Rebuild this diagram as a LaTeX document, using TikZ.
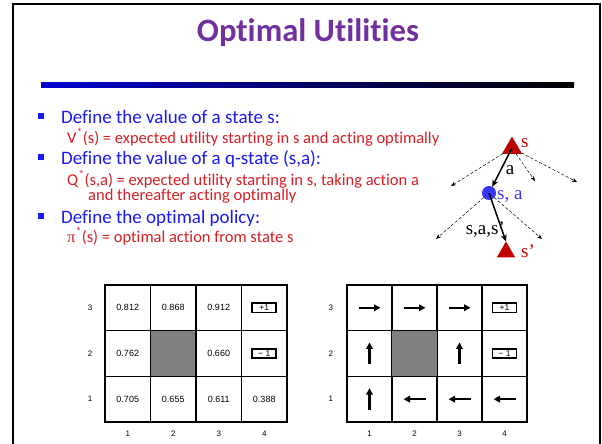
\documentclass[tikz,border=0pt]{standalone}
\usepackage{fontspec}
\setmainfont{Carlito}[Ligatures=NoCommon]
\newfontfamily\treefont{Liberation Serif}
\newfontfamily\gridfont{Liberation Sans}
\usepackage{tikz}
\usetikzlibrary{shapes.geometric, arrows.meta, positioning, calc}

\definecolor{titlepurple}{RGB}{112,48,160}
\definecolor{headblue}{RGB}{25,25,245}
\definecolor{defred}{RGB}{215,30,35}
\definecolor{maxred}{RGB}{192,0,0}
\definecolor{chanceblue}{RGB}{55,55,250}
\definecolor{barblue}{RGB}{0,0,205}
\definecolor{wallgray}{RGB}{128,128,128}

\tikzset{
  sq/.style={fill=headblue, minimum size=5.2pt, inner sep=0pt, outer sep=0pt},
  headtxt/.style={text=headblue, font=\fontsize{19}{22}\selectfont, anchor=base west, inner sep=0pt},
  deftxt/.style={text=defred, font=\fontsize{16.5}{19}\selectfont, anchor=base west, inner sep=0pt},
  maxtri/.style={regular polygon, regular polygon sides=3, fill=maxred, minimum size=23pt, inner sep=0pt, outer sep=0pt},
  chance/.style={circle, fill=chanceblue, minimum size=14pt, inner sep=0pt, outer sep=0pt},
  treelbl/.style={font=\treefont\fontsize{19}{20}\selectfont, inner sep=0pt},
  bigarr/.style={line width=1.5pt, -{Stealth[length=7pt, width=6pt]}},
  dotarr/.style={densely dashed, line width=0.5pt, -{Stealth[length=5pt, width=4pt]}},
  cell/.style={draw, line width=1.2pt, minimum width=45.5pt, minimum height=45.7pt, inner sep=0pt, outer sep=0pt, font=\gridfont\fontsize{9}{10}\selectfont},
  axlbl/.style={font=\gridfont\fontsize{8}{9}\selectfont, inner sep=0pt},
  reward/.style={draw, fill=white, line width=1.6pt, minimum width=24pt, minimum height=9.5pt, inner sep=0pt, font=\gridfont\fontsize{8.5}{8.5}\selectfont},
  polarr/.style={line width=2.2pt, -{Triangle[length=6.5pt, width=6.5pt]}}
}

\begin{document}
\begin{tikzpicture}[x=1pt, y=-1pt]
    \useasboundingbox (0,0) rectangle (602,444);

    % slide frame and title
    \draw[line width=2pt] (13,450) -- (13,4) -- (600,4) -- (600,450);
    \node[font=\bfseries\fontsize{32.6}{36}\selectfont, text=titlepurple, anchor=base, inner sep=0pt] (title) at (308,42) {Optimal Utilities};
    \shade[left color=barblue, right color=black] (41,82) rectangle (574,87);

    % definitions
    \node[sq] (b1) at (41,116) {};
    \node[headtxt] (def1) at (61,123) {Define the value of a state s:};
    \node[deftxt] (val1) at (67,143) {V\textsuperscript{*}(s) = expected utility starting in s and acting optimally};
    \node[sq] (b2) at (41,157) {};
    \node[headtxt] (def2) at (61,164) {Define the value of a q-state (s,a):};
    \node[deftxt] (qval1) at (67,185) {Q\textsuperscript{*}(s,a) = expected utility starting in s, taking action a};
    \node[deftxt] (qval2) at (88,200) {and thereafter acting optimally};
    \node[sq] (b3) at (41,216) {};
    \node[headtxt] (def3) at (61,223) {Define the optimal policy:};
    \node[deftxt] (pol1) at (67,242) {{\treefont π}\textsuperscript{*}(s) = optimal action from state s};

    % small expectimax tree
    \node[maxtri] (s) at (512,148) {};
    \node[treelbl, text=maxred, anchor=west] (slbl) at (521,143) {s};
    \node[chance] (sa) at (489,193) {};
    \node[treelbl, text=chanceblue, anchor=west] (salbl) at (497,196) {s, a};
    \node[maxtri, minimum size=21pt] (sp) at (506,252) {};
    \node[treelbl, text=maxred, anchor=west] (splbl) at (521,251) {s’};
    \coordinate (sL) at (451,186);
    \coordinate (sR1) at (535,181);
    \coordinate (sR2) at (577,182);
    \coordinate (saL) at (436,239);
    \coordinate (saR) at (542,239);
    \draw[dotarr] (s) -- (sL);
    \draw[dotarr] (s) -- (sR1);
    \draw[dotarr] (s) -- (sR2);
    \draw[dotarr] (sa) -- (saL);
    \draw[dotarr] (sa) -- (saR);
    \draw[bigarr] (s.center) -- (sa);
    \draw[bigarr] (sa.center) -- (sp.corner 1);
    \node[treelbl] (albl) at (510,170) {a};
    \node[treelbl, anchor=east] (saslbl) at (505,230) {s,a,s’};

    % utilities grid
    \foreach \cc/\rr/\v in {1/3/0.812, 2/3/0.868, 3/3/0.912, 4/3/{}, 1/2/0.762, 2/2/{}, 3/2/0.660, 4/2/{}, 1/1/0.705, 2/1/0.655, 3/1/0.611, 4/1/0.388}
        \node[cell] (L-\cc-\rr) at ({105+45.5*(\cc-0.5)}, {422-45.7*(\rr-0.5)}) {\v};
    \filldraw[fill=wallgray, line width=1.2pt] (L-2-2.south west) rectangle (L-2-2.north east);
    \draw[line width=2pt] (L-1-1.south west) rectangle (L-4-3.north east);
    \node[reward] (Lplus) at (L-4-3) {+1};
    \node[reward] (Lminus) at (L-4-2) {− 1};
    \foreach \cc in {1,...,4}
        \node[axlbl] (Lx-\cc) at ($(L-\cc-1.south)+(0,12)$) {\cc};
    \foreach \rr in {1,2,3}
        \node[axlbl] (Ly-\rr) at ($(L-1-\rr.west)+(-15,0)$) {\rr};

    % policy grid
    \foreach \cc in {1,...,4}
        \foreach \rr in {1,2,3}
            \node[cell] (R-\cc-\rr) at ({347+45*(\cc-0.5)}, {422-45.7*(\rr-0.5)}) {};
    \filldraw[fill=wallgray, line width=1.2pt] (R-2-2.south west) rectangle (R-2-2.north east);
    \draw[line width=2pt] (R-1-1.south west) rectangle (R-4-3.north east);
    \node[reward] (Rplus) at (R-4-3) {+1};
    \node[reward] (Rminus) at (R-4-2) {− 1};
    \foreach \cc/\rr in {1/3, 2/3, 3/3}
        \draw[polarr] ($(R-\cc-\rr)+(-11,0)$) -- ($(R-\cc-\rr)+(11,0)$);
    \foreach \cc/\rr in {1/2, 3/2, 1/1}
        \draw[polarr] ($(R-\cc-\rr)+(0,11)$) -- ($(R-\cc-\rr)+(0,-11)$);
    \foreach \cc/\rr in {2/1, 3/1, 4/1}
        \draw[polarr] ($(R-\cc-\rr)+(11,0)$) -- ($(R-\cc-\rr)+(-11,0)$);
    \foreach \cc in {1,...,4}
        \node[axlbl] (Rx-\cc) at ($(R-\cc-1.south)+(0,12)$) {\cc};
    \foreach \rr in {1,2,3}
        \node[axlbl] (Ry-\rr) at ($(R-1-\rr.west)+(-16,0)$) {\rr};

\end{tikzpicture}
\end{document}
